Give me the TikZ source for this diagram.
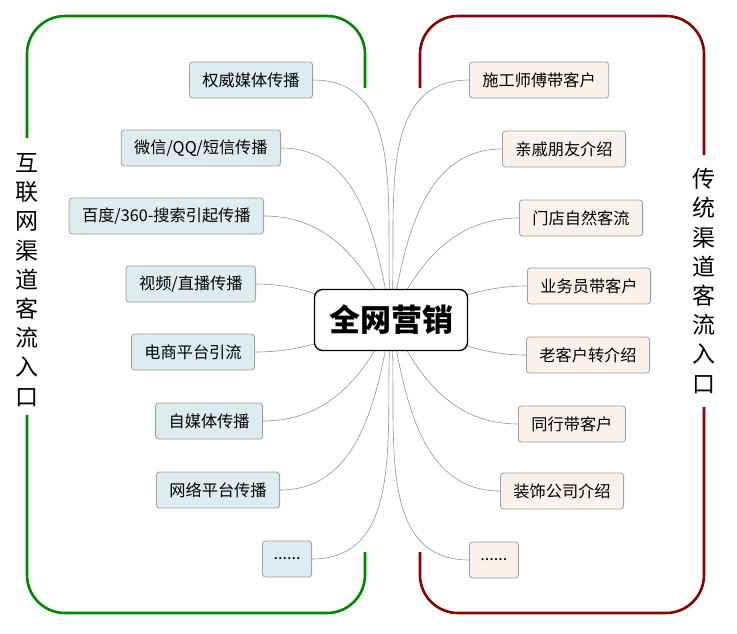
\documentclass[tikz,border=0pt]{standalone}
\usepackage{fontspec}
\newfontfamily\cjk{Noto Sans CJK SC}
\usetikzlibrary{backgrounds}
\definecolor{netgreen}{RGB}{0,135,0}
\definecolor{oldred}{RGB}{140,0,0}
\definecolor{netfill}{RGB}{221,236,241}
\definecolor{oldfill}{RGB}{249,241,234}
\definecolor{boxline}{RGB}{160,160,160}
\tikzset{
  leaf/.style={draw=boxline, rounded corners=3pt, line width=0.8pt, inner xsep=13pt,
    minimum height=36pt, font=\cjk\fontsize{16.2}{19}\selectfont},
  netbox/.style={leaf, fill=netfill, anchor=east},
  oldbox/.style={leaf, fill=oldfill, anchor=west},
  more/.style={inner xsep=11pt},
  hub/.style={draw=black, fill=white, line width=1.3pt, rounded corners=8pt,
    minimum width=153pt, minimum height=61pt, font=\cjk\bfseries\fontsize{31}{34}\selectfont},
  link/.style={draw=gray!85, line width=0.6pt},
  vlabel/.style={align=center, font=\cjk\fontsize{23}{29.2}\selectfont},
  bracket/.style={line width=2.6pt, rounded corners=38pt}
}
\begin{document}
\begin{tikzpicture}[x=1pt, y=1pt]
  \useasboundingbox (0,0) rectangle (737,-633);
  % centre
  \node[hub] (hub) at (391,-320) {全网营销};
  % internet channels
  \node[netbox] (n1) at (313,-80) {权威媒体传播};
  \node[netbox] (n2) at (281,-148) {微信/QQ/短信传播};
  \node[netbox] (n3) at (264,-216) {百度/360-搜索引起传播};
  \node[netbox] (n4) at (256,-284) {视频/直播传播};
  \node[netbox] (n5) at (255,-352) {电商平台引流};
  \node[netbox] (n6) at (263,-421) {自媒体传播};
  \node[netbox] (n7) at (280,-490) {网络平台传播};
  \node[netbox, more] (n8) at (312,-559) {......};
  % traditional channels
  \node[oldbox] (t1) at (469,-80) {施工师傅带客户};
  \node[oldbox] (t2) at (502,-149) {亲戚朋友介绍};
  \node[oldbox] (t3) at (519,-218) {门店自然客流};
  \node[oldbox] (t4) at (527,-286) {业务员带客户};
  \node[oldbox] (t5) at (526,-355) {老客户转介绍};
  \node[oldbox] (t6) at (518,-424) {同行带客户};
  \node[oldbox] (t7) at (500,-491) {装饰公司介绍};
  \node[oldbox, more] (t8) at (469,-560) {......};
  % links behind the centre box
  \begin{pgfonlayer}{background}
    \foreach \i/\a in {1/95,2/100,3/115,4/165,5/195,6/245,7/260,8/265}
      \draw[link] (hub.center) to[out=\a, in=0] (n\i.east);
    \foreach \i/\a in {1/85,2/80,3/65,4/15,5/-15,6/-65,7/-80,8/-85}
      \draw[link] (hub.center) to[out=\a, in=180] (t\i.west);
  \end{pgfonlayer}
  % side labels
  \node[vlabel] (netlabel) at (27,-280) {互\\联\\网\\渠\\道\\客\\流\\入\\口};
  \node[vlabel] (oldlabel) at (704,-281) {传\\统\\渠\\道\\客\\流\\入\\口};
  % brackets
  \draw[bracket, netgreen] (27,-138) |- (365,-16) -- (365,-88);
  \draw[bracket, netgreen] (27,-415) |- (365,-613) -- (365,-552);
  \draw[bracket, oldred] (420,-88) |- (704,-16) -- (704,-155);
  \draw[bracket, oldred] (420,-552) |- (704,-613) -- (704,-407);
\end{tikzpicture}
\end{document}
